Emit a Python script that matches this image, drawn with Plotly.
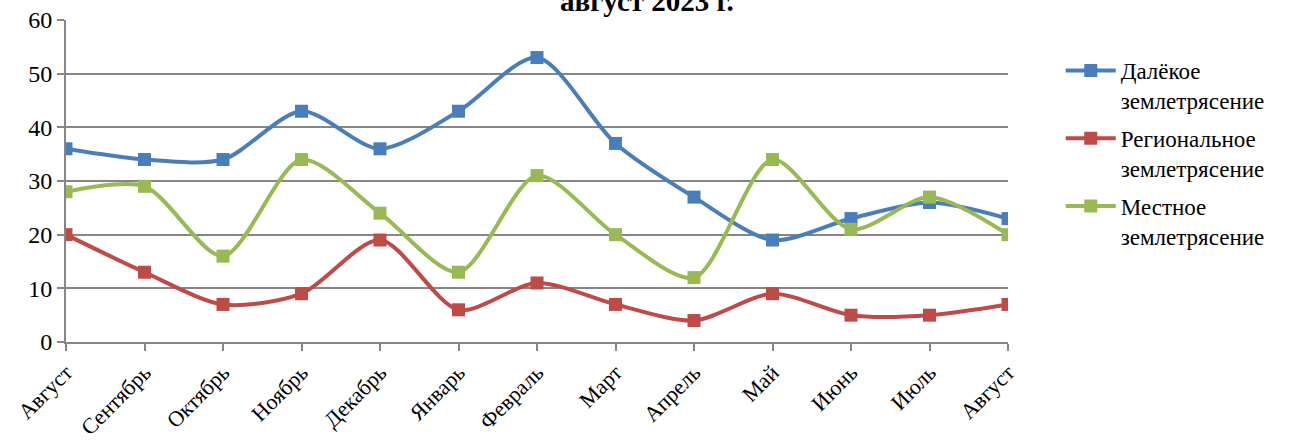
import plotly.graph_objects as go

months = ["Август", "Сентябрь", "Октябрь", "Ноябрь", "Декабрь", "Январь", "Февраль",
          "Март", "Апрель", "Май", "Июнь", "Июль", "Август"]
x_idx = list(range(len(months)))
far_quake = [36, 34, 34, 43, 36, 43, 53, 37, 27, 19, 23, 26, 23]
regional_quake = [20, 13, 7, 9, 19, 6, 11, 7, 4, 9, 5, 5, 7]
local_quake = [28, 29, 16, 34, 24, 13, 31, 20, 12, 34, 21, 27, 20]
series_names = ["Далёкое<br>землетрясение", "Региональное<br>землетрясение", "Местное<br>землетрясение"]
colors = ["#4A7EBB", "#BE4B48", "#98B954"]
y_ticks = [0, 10, 20, 30, 40, 50, 60]

FONT = "Liberation Serif"
fig = go.Figure()
for name, vals, c in zip(series_names, [far_quake, regional_quake, local_quake], colors):
    fig.add_trace(go.Scatter(
        x=x_idx, y=vals, name=name, mode="lines+markers", legendgroup=name,
        line=dict(color=c, width=4, shape="spline", smoothing=0.8),
        marker=dict(symbol="square", size=13, color=c),
    ))

fig.update_layout(
    width=1289, height=445,
    margin=dict(l=66, r=281, t=20, b=103, autoexpand=False),
    paper_bgcolor="white", plot_bgcolor="white",
    font=dict(family=FONT, color="black", size=22),
    showlegend=True,
    legend=dict(x=1.056, y=0.91, xanchor="left", yanchor="top", valign="top",
                font=dict(size=23, family=FONT, color="black"), tracegroupgap=5,
                itemwidth=50),
    annotations=[dict(text="<b>август 2023 г.</b>", xref="paper", yref="paper",
                      x=0.617, y=1.0, xanchor="center", yanchor="bottom", yshift=1,
                      showarrow=False, font=dict(size=29, family=FONT, color="black"))],
)
fig.update_xaxes(
    range=[0, 12], tickmode="array", tickvals=x_idx, ticktext=months, tickangle=-45,
    showgrid=False, showline=True, linecolor="#868686", linewidth=2,
    ticks="outside", ticklen=7, tickcolor="#868686", tickwidth=2, automargin=False,
    tickfont=dict(size=22, family=FONT, color="black"), zeroline=False,
    ticklabeloverflow="allow",
)
fig.update_yaxes(
    range=[0, 60], tickvals=y_ticks, showgrid=True, gridcolor="#868686", gridwidth=2,
    showline=True, linecolor="#868686", linewidth=2, automargin=False,
    ticks="outside", ticklen=7, tickcolor="#868686", tickwidth=2,
    tickfont=dict(size=24, family=FONT, color="black"), zeroline=False,
    ticklabeloverflow="allow",
)
fig.write_html("out.html", config={"displayModeBar": False},
               post_script="document.body.style.margin='0';")
